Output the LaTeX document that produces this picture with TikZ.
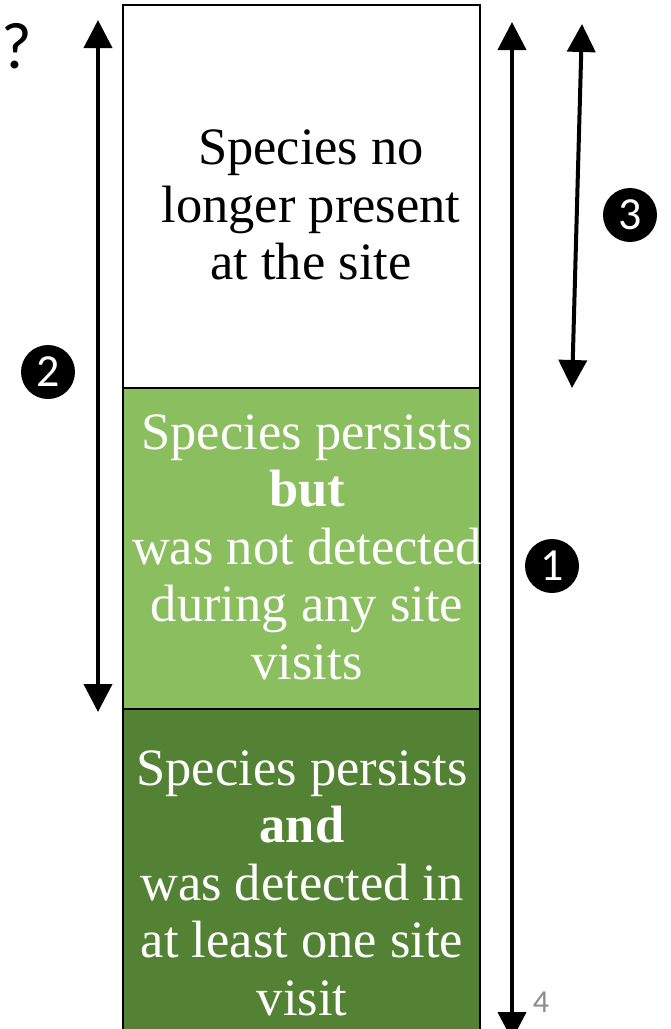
\documentclass[tikz,border=0pt]{standalone}
\usepackage{fontspec}
\setmainfont{Liberation Serif}
\newfontfamily\calib{Carlito}
\usetikzlibrary{arrows.meta}
\definecolor{lightg}{HTML}{8ABE5E}
\definecolor{darkg}{HTML}{548235}
\definecolor{pagegray}{HTML}{8C8C8C}
\begin{document}
\begin{tikzpicture}[x=1pt,y=-1pt,
  boxtext/.style={align=center, font=\fontsize{52.5}{57.5}\selectfont},
  tipT/.tip={Triangle[width=28pt,length=28pt]},
  arr/.style={line width=4pt, tipT-tipT},
  num/.style={circle, fill=black, text=white, minimum size=54pt, inner sep=0pt, font=\calib\fontsize{46}{46}\selectfont}]
\useasboundingbox (0,0) rectangle (671,1029);
\fill[white] (0,0) rectangle (671,1029);
% boxes
\draw[line width=2pt, fill=darkg] (123,709) rectangle (480,1040);
\draw[line width=2pt, fill=lightg] (123,388) rectangle (480,709);
\draw[line width=2pt, fill=white] (123,5) rectangle (480,388);
% texts
\node[boxtext] (gone) at (311,205) {Species no\\longer present\\at the site};
\node[boxtext, text=white] (notdet) at (307,547) {Species persists\\\textbf{but}\\was not detected\\during any site\\visits};
\node[boxtext, text=white] (det) at (302,883) {Species persists\\\textbf{and}\\was detected in\\at least one site\\visit};
% arrow end points
\coordinate (a2top) at (98,20);
\coordinate (a2bot) at (98,712);
\coordinate (a1top) at (512,22);
\coordinate (a1bot) at (512,1040);
\coordinate (a3top) at (582,24);
\coordinate (a3bot) at (572,388);
\draw[arr] (a2top) -- (a2bot);
\draw[arr] (a1top) -- (a1bot);
\draw[arr] (a3top) -- (a3bot);
% numbers
\node[num] (n2) at (48,372) {2};
\node[num] (n3) at (630,215) {3};
\node[num] (n1) at (552,566) {1};
\node[font=\calib\fontsize{66}{66}\selectfont, inner sep=0pt, anchor=west] (q) at (1,46) {?};
\node[font=\calib\fontsize{32}{32}\selectfont, text=pagegray] (pg) at (541,1002) {4};
\end{tikzpicture}
\end{document}
